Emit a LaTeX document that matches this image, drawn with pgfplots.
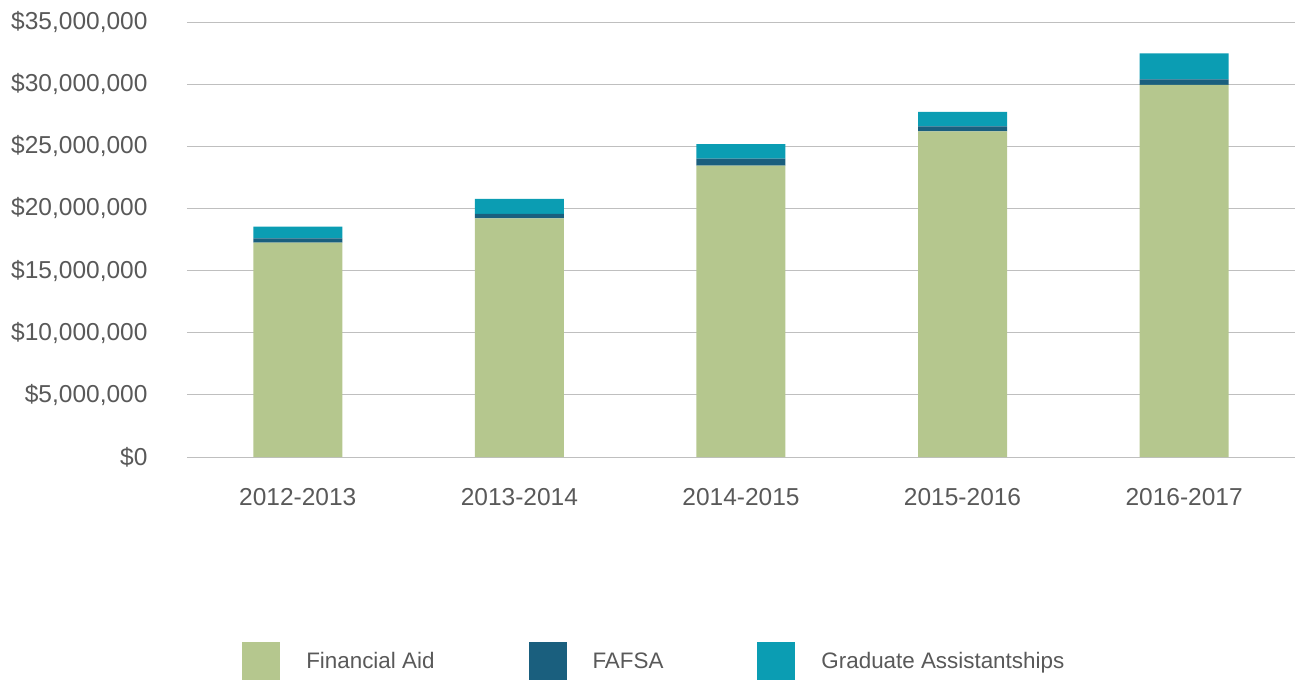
\documentclass[border=0pt]{standalone}
\usepackage{fontspec}
\setmainfont{Liberation Sans}
\usepackage{pgfplots}
\pgfplotsset{compat=1.18}

\definecolor{aidgreen}{HTML}{B5C78E}
\definecolor{fafsablue}{HTML}{1A5F7E}
\definecolor{gateal}{HTML}{0B9DB3}
\definecolor{gridgray}{HTML}{BFBFBF}
\definecolor{txt}{HTML}{595959}

\newcommand{\chartfont}{\fontsize{22.4}{26}\selectfont}
\newcommand{\tickfont}{\fontsize{24.5}{28}\selectfont}

\begin{document}
\begin{tikzpicture}
\path[use as bounding box] (-187pt,-223pt) rectangle (1108pt,457pt);
\begin{axis}[
    at={(0pt,0pt)}, anchor=south west,
    scale only axis,
    width=1108pt, height=435pt,
    ybar stacked,
    bar width=89pt,
    xmin=-0.5, xmax=4.5,
    ymin=0, ymax=35000000,
    xtick={0,1,2,3,4},
    xticklabels={2012-2013,2013-2014,2014-2015,2015-2016,2016-2017},
    ytick={0,5000000,10000000,15000000,20000000,25000000,30000000,35000000},
    yticklabels={{\$0},{\$5,000,000},{\$10,000,000},{\$15,000,000},{\$20,000,000},{\$25,000,000},{\$30,000,000},{\$35,000,000}},
    scaled y ticks=false,
    ymajorgrids,
    grid style={gridgray, line width=1pt},
    axis line style={draw=none},
    major tick style={draw=none},
    tick label style={font=\tickfont, text=txt},
    yticklabel style={anchor=east, xshift=-36pt},
    xticklabel style={anchor=center, yshift=-40pt},
    legend columns=3,
    legend style={
        draw=none, font=\chartfont, text=txt,
        at={(axis description cs:0.047,-0.469)}, anchor=west,
        /tikz/every odd column/.append style={column sep=24pt},
        /tikz/every even column/.append style={column sep=92pt},
    },
    legend cell align=left,
    legend image code/.code={\fill[#1] (0pt,-19pt) rectangle (38pt,19pt);},
]
\addplot[fill=aidgreen, draw=none] coordinates {
(0,17240000) (1,19200000) (2,23440000) (3,26200000) (4,29950000)};
\addplot[fill=fafsablue, draw=none] coordinates {
(0,350000) (1,370000) (2,560000) (3,400000) (4,440000)};
\addplot[fill=gateal, draw=none] coordinates {
(0,940000) (1,1190000) (2,1180000) (3,1160000) (4,2090000)};
\legend{Financial Aid, FAFSA, Graduate Assistantships}
\end{axis}
\end{tikzpicture}
\end{document}
